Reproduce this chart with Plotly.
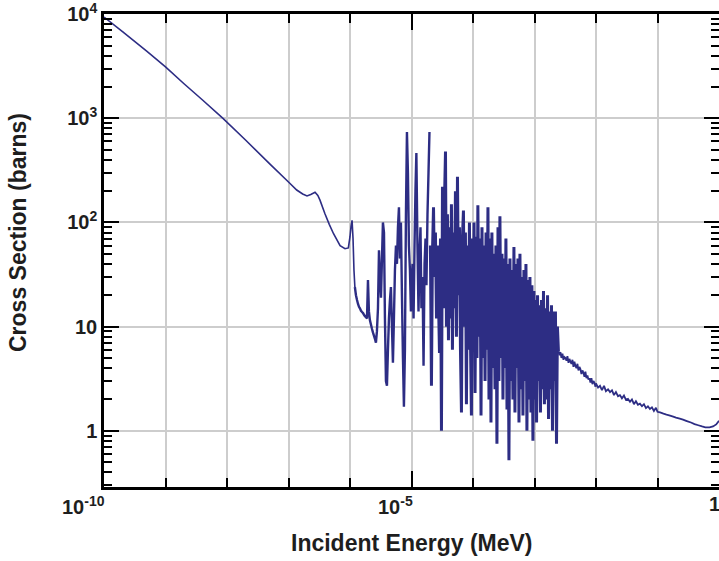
import math
import plotly.graph_objects as go

# ---------------------------------------------------------------- data
# Smooth low-energy part (1/v region and first bound levels), MeV / barns
smooth_energy = [1.0e-10, 2.0e-10, 5.0e-10, 1.0e-9, 2.0e-9, 4.0e-9, 8.6e-9, 2.0e-8,
                 5.0e-8, 1.0e-7, 1.36e-7, 1.7e-7, 2.0e-7, 2.3e-7, 2.7e-7, 3.0e-7,
                 3.25e-7, 3.9e-7, 4.6e-7, 5.4e-7, 6.9e-7, 8.3e-7, 9.4e-7]
smooth_sigma = [9400, 6800, 4400, 3120, 2150, 1500, 1000, 620,
                363, 245, 205, 188, 180, 186, 195, 182,
                164, 122, 96, 78, 60, 56, 57]

# Resolved resonance region, 1e-6 .. 1e-5 MeV
res1_energy = [1.00e-6, 1.04e-6, 1.08e-6, 1.12e-6, 1.16e-6, 1.20e-6, 1.25e-6, 1.30e-6, 1.35e-6, 1.40e-6,
               1.45e-6, 1.51e-6, 1.57e-6, 1.63e-6, 1.69e-6, 1.75e-6, 1.82e-6, 1.89e-6, 1.96e-6, 2.03e-6,
               2.11e-6, 2.19e-6, 2.28e-6, 2.36e-6, 2.45e-6, 2.55e-6, 2.64e-6, 2.74e-6, 2.85e-6, 2.96e-6,
               3.07e-6, 3.19e-6, 3.31e-6, 3.43e-6, 3.57e-6, 3.70e-6, 3.84e-6, 3.99e-6, 4.14e-6, 4.30e-6,
               4.46e-6, 4.63e-6, 4.81e-6, 4.99e-6, 5.18e-6, 5.38e-6, 5.59e-6, 5.80e-6, 6.02e-6, 6.25e-6,
               6.49e-6, 6.73e-6, 6.99e-6, 7.26e-6, 7.53e-6, 7.82e-6, 8.12e-6, 8.43e-6, 8.75e-6, 9.08e-6,
               9.43e-6, 9.79e-6]
res1_sigma = [73, 92, 105, 70, 35, 24, 20, 18, 16.5, 15.5,
              15, 14.2, 13.8, 13.5, 13, 12.6, 12.3, 12, 28, 14,
              11.5, 10.5, 9.5, 8.8, 8.2, 7.6, 7.0, 9, 15, 54,
              30, 19, 45, 100, 80, 12, 3.0, 2.7, 6, 12,
              18, 24, 10, 4.5, 12, 35, 60, 40, 90, 140,
              45, 100, 20, 5, 1.7, 6, 120, 740, 300, 60,
              35, 14]

# 1e-5 .. 1e-4 MeV
res2_energy = [1.00e-5, 1.04e-5, 1.08e-5, 1.12e-5, 1.16e-5, 1.20e-5, 1.25e-5, 1.30e-5, 1.35e-5, 1.40e-5,
               1.45e-5, 1.51e-5, 1.57e-5, 1.63e-5, 1.69e-5, 1.75e-5, 1.82e-5, 1.89e-5, 1.96e-5, 2.03e-5,
               2.11e-5, 2.19e-5, 2.28e-5, 2.36e-5, 2.45e-5, 2.55e-5, 2.64e-5, 2.74e-5, 2.85e-5, 2.96e-5,
               3.07e-5, 3.19e-5, 3.31e-5, 3.43e-5, 3.57e-5, 3.70e-5, 3.84e-5, 3.99e-5, 4.14e-5, 4.30e-5,
               4.46e-5, 4.63e-5, 4.81e-5, 4.99e-5, 5.18e-5, 5.38e-5, 5.59e-5, 5.80e-5, 6.02e-5, 6.25e-5,
               6.49e-5, 6.73e-5, 6.99e-5, 7.26e-5, 7.53e-5, 7.82e-5, 8.12e-5, 8.43e-5, 8.75e-5, 9.08e-5,
               9.43e-5, 9.79e-5]
res2_sigma = [25, 40, 12, 60, 200, 465, 60, 14, 50, 90,
              15, 30, 4.2, 40, 70, 25, 120, 300, 740, 60,
              2.7, 50, 140, 30, 80, 12, 60, 20, 5.6, 70,
              1.0, 220, 15, 150, 480, 10, 120, 7.4, 90, 12,
              150, 6, 80, 15, 200, 8, 275, 20, 90, 6,
              1.5, 70, 130, 10, 80, 1.8, 60, 6, 100, 8,
              1.4, 70]

# 1e-4 .. 1e-3 MeV
res3_energy = [1.00e-4, 1.04e-4, 1.08e-4, 1.12e-4, 1.16e-4, 1.20e-4, 1.25e-4, 1.30e-4, 1.35e-4, 1.40e-4,
               1.45e-4, 1.51e-4, 1.57e-4, 1.63e-4, 1.69e-4, 1.75e-4, 1.82e-4, 1.89e-4, 1.96e-4, 2.03e-4,
               2.11e-4, 2.19e-4, 2.28e-4, 2.36e-4, 2.45e-4, 2.55e-4, 2.64e-4, 2.74e-4, 2.85e-4, 2.96e-4,
               3.07e-4, 3.19e-4, 3.31e-4, 3.43e-4, 3.57e-4, 3.70e-4, 3.84e-4, 3.99e-4, 4.14e-4, 4.30e-4,
               4.46e-4, 4.63e-4, 4.81e-4, 4.99e-4, 5.18e-4, 5.38e-4, 5.59e-4, 5.80e-4, 6.02e-4, 6.25e-4,
               6.49e-4, 6.73e-4, 6.99e-4, 7.26e-4, 7.53e-4, 7.82e-4, 8.12e-4, 8.43e-4, 8.75e-4, 9.08e-4,
               9.43e-4, 9.79e-4]
res3_sigma = [6, 100, 2.3, 73, 5, 146, 8, 70, 1.4, 90,
              5, 60, 3, 80, 6, 140, 2, 70, 1.2, 80,
              4, 50, 2.5, 60, 0.75, 90, 3, 115, 5, 50,
              2, 45, 4, 70, 1.6, 40, 0.52, 45, 3, 35,
              2, 58, 1.5, 40, 4, 45, 1.2, 50, 2.5, 30,
              1.4, 35, 3, 40, 1.0, 28, 2, 30, 1.5, 25,
              0.8, 22]

# 1e-3 .. 1e-2 MeV: end of resolved range, then unresolved/fast region
res4_energy = [1.00e-3, 1.04e-3, 1.08e-3, 1.12e-3, 1.16e-3, 1.20e-3, 1.25e-3, 1.30e-3, 1.35e-3, 1.40e-3,
               1.45e-3, 1.51e-3, 1.57e-3, 1.63e-3, 1.69e-3, 1.75e-3, 1.82e-3, 1.89e-3, 1.96e-3, 2.03e-3,
               2.11e-3, 2.19e-3, 2.28e-3, 2.36e-3, 2.45e-3, 2.55e-3, 2.64e-3, 2.74e-3, 2.85e-3, 2.96e-3,
               3.07e-3, 3.19e-3, 3.31e-3, 3.43e-3, 3.57e-3, 3.70e-3, 3.84e-3, 3.99e-3, 4.14e-3, 4.30e-3,
               4.46e-3, 4.63e-3, 4.81e-3, 4.99e-3, 5.18e-3, 5.38e-3, 5.59e-3, 5.80e-3, 6.02e-3, 6.25e-3,
               6.49e-3, 6.73e-3, 6.99e-3, 7.26e-3, 7.53e-3, 7.82e-3, 8.12e-3, 8.43e-3, 8.75e-3, 9.08e-3,
               9.43e-3, 9.79e-3]
res4_sigma = [2, 18, 1.2, 20, 3, 16, 1.5, 18, 2.5, 22,
              1.8, 15, 2, 20, 1.3, 14, 2.5, 16, 1.0, 14,
              3, 14, 0.75, 10, 5.8, 5.3, 5.7, 5.0, 5.5, 4.8,
              5.1, 5.0, 4.7, 5.2, 4.5, 4.9, 4.6, 4.4, 4.8, 4.1,
              4.6, 4.2, 4.0, 4.4, 3.8, 4.1, 3.9, 3.5, 3.8, 3.6,
              3.3, 3.7, 3.2, 3.4, 3.1, 3.2, 2.9, 3.2, 2.8, 3.0,
              2.9, 2.65]

# 1e-2 .. 1 MeV
fast_energy = [1.00e-2, 1.08e-2, 1.16e-2, 1.25e-2, 1.35e-2, 1.45e-2, 1.57e-2, 1.69e-2, 1.82e-2, 1.96e-2,
               2.11e-2, 2.28e-2, 2.45e-2, 2.64e-2, 2.85e-2, 3.07e-2, 3.31e-2, 3.57e-2, 3.84e-2, 4.14e-2,
               4.46e-2, 4.81e-2, 5.18e-2, 5.59e-2, 6.02e-2, 6.49e-2, 6.99e-2, 7.53e-2, 8.12e-2, 8.75e-2,
               9.43e-2, 1.0e-1, 1.1e-1, 1.25e-1, 1.4e-1, 1.6e-1, 1.8e-1, 2.0e-1, 2.3e-1, 2.6e-1,
               3.0e-1, 3.5e-1, 4.0e-1, 4.6e-1, 5.3e-1, 6.0e-1, 7.0e-1, 8.0e-1, 9.0e-1, 1.0]
fast_sigma = [2.85, 2.6, 2.7, 2.45, 2.7, 2.4, 2.5, 2.35, 2.45, 2.2,
              2.35, 2.15, 2.2, 2.05, 2.18, 1.98, 2.02, 1.9, 2.0, 1.8,
              1.92, 1.78, 1.82, 1.72, 1.8, 1.65, 1.72, 1.62, 1.68, 1.55,
              1.66, 1.52, 1.5, 1.46, 1.43, 1.40, 1.37, 1.34, 1.31, 1.28,
              1.24, 1.2, 1.16, 1.13, 1.1, 1.08, 1.08, 1.1, 1.15, 1.25]

energy = smooth_energy + res1_energy + res2_energy + res3_energy + res4_energy + fast_energy
sigma = smooth_sigma + res1_sigma + res2_sigma + res3_sigma + res4_sigma + fast_sigma

# The curve is drawn in pieces so the packed resonance range can use a
# heavier stroke; neighbouring pieces share their end point.
RES_START, DENSE_START, RES_END = 1.2e-6, 2.0e-5, 2.45e-3


def piece(lo, hi):
    pts = [(e, s) for e, s in zip(energy, sigma) if lo <= e <= hi]
    return [p[0] for p in pts], [p[1] for p in pts]


# axis ticks
x_label_vals = [1e-10, 1e-5, 1.0]
x_label_text = ["10<sup>-10</sup>", "10<sup>-5</sup>", "1"]
x_decades = [1e-9, 1e-8, 1e-7, 1e-6, 1e-4, 1e-3, 1e-2, 1e-1]
y_label_vals = [1, 10, 100, 1000, 10000]
y_label_text = ["1", "10", "10<sup>2</sup>", "10<sup>3</sup>", "10<sup>4</sup>"]
y_minor_vals = [m * d for d in (0.1, 1, 10, 100, 1000) for m in range(2, 10)]

LINE = "#2d2d84"
GRID = "#cdcdcd"
INK = "#1e1e1e"
FONT = "Liberation Sans, Arial, sans-serif"

fig = go.Figure()
for (lo, hi), width in [((0, RES_START), 1.6),
                        ((RES_START, DENSE_START), 2.4),
                        ((DENSE_START, RES_END), 3.0),
                        ((RES_END, 10), 1.8)]:
    xs, ys = piece(lo, hi)
    fig.add_trace(go.Scatter(
        x=xs, y=ys, mode="lines",
        line=dict(color=LINE, width=width, simplify=False),
        hoverinfo="skip", showlegend=False,
    ))

fig.update_xaxes(
    type="log", range=[-10, 0],
    tickmode="array", tickvals=x_label_vals, showticklabels=False,
    ticks="inside", ticklen=16, tickwidth=2, tickcolor="black",
    showline=True, linecolor="black", linewidth=2.5, mirror="ticks",
    showgrid=True, gridcolor=GRID, gridwidth=1.5,
    minor=dict(tickmode="array", tickvals=x_decades, ticks="inside", ticklen=9,
               tickwidth=2, tickcolor="black", showgrid=True,
               gridcolor=GRID, gridwidth=1.5),
    zeroline=False,
)
fig.update_yaxes(
    type="log", range=[-0.54, 4.002],
    tickmode="array", tickvals=y_label_vals, ticktext=y_label_text,
    tickfont=dict(family=FONT, size=20, color=INK, weight="bold"),
    ticklabeloverflow="allow",
    ticks="inside", ticklen=15, tickwidth=2, tickcolor="black",
    showline=True, linecolor="black", linewidth=2.5, mirror="ticks",
    showgrid=True, gridcolor=GRID, gridwidth=1.5,
    minor=dict(tickmode="array", tickvals=y_minor_vals, ticks="inside", ticklen=8,
               tickwidth=1.5, tickcolor="black", showgrid=False),
    zeroline=False,
)

annotations = []
for v, t in zip(x_label_vals, x_label_text):
    annotations.append(dict(
        x=math.log10(v), xref="x", y=0, yref="paper",
        text=t, showarrow=False, xanchor="right", yanchor="top",
        xshift=3, yshift=-4,
        font=dict(family=FONT, size=20, color=INK, weight="bold"),
    ))
annotations.append(dict(
    x=0.5, xref="paper", y=0, yref="paper", yshift=-56,
    text="Incident Energy (MeV)", showarrow=False,
    xanchor="center", yanchor="middle",
    font=dict(family=FONT, size=23, color=INK, weight="bold"),
))
annotations.append(dict(
    x=0, xref="paper", xshift=-86, y=0.537, yref="paper",
    text="Cross Section (barns)", showarrow=False, textangle=-90,
    xanchor="center", yanchor="middle",
    font=dict(family=FONT, size=23, color=INK, weight="bold"),
))

fig.update_layout(
    width=719, height=561,
    margin=dict(l=104, r=0, t=14, b=74, autoexpand=False),
    paper_bgcolor="white", plot_bgcolor="white",
    annotations=annotations,
    showlegend=False,
)

fig.write_html("out.html")
